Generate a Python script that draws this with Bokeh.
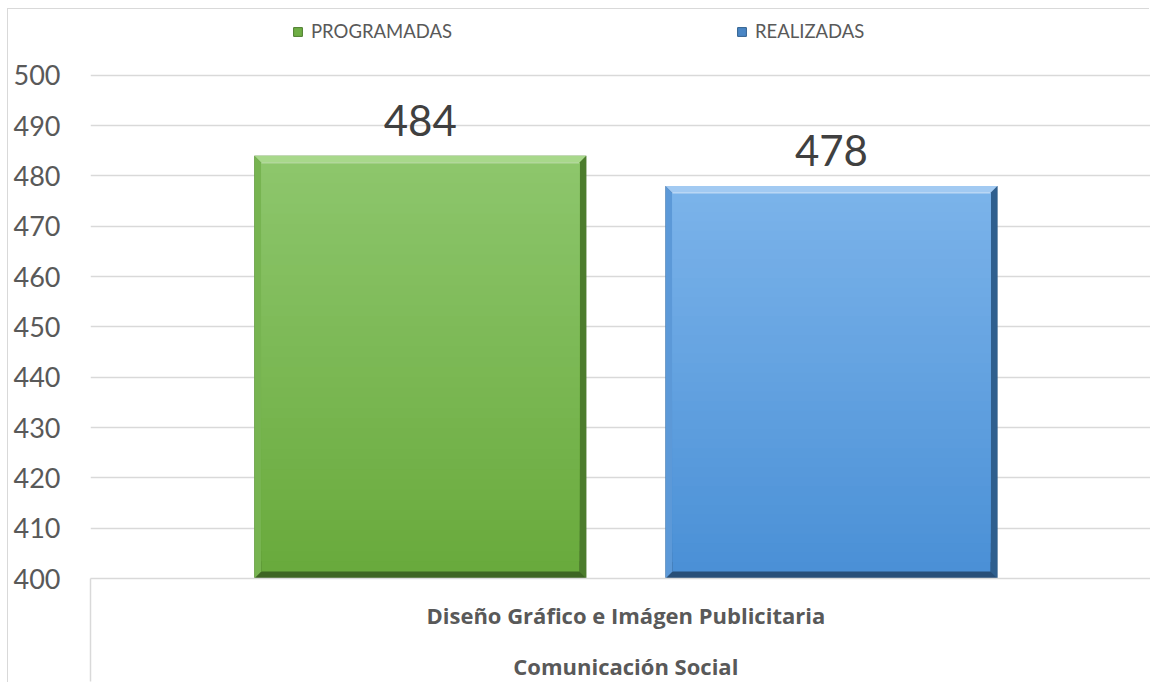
import numpy as np
from bokeh.plotting import figure
from bokeh.models import (Range1d, LinearAxis, FixedTicker, Legend, LegendItem,
                          ColumnDataSource)
from bokeh.core.properties import value
from bokeh.embed import file_html
from bokeh.resources import INLINE

# ---- data ----
categories = ["Diseño Gráfico e Imágen Publicitaria"]
group_label = "Comunicación Social"
series_names = ["PROGRAMADAS", "REALIZADAS"]
programadas = [484]
realizadas = [478]
y_ticks = [400, 410, 420, 430, 440, 450, 460, 470, 480, 490, 500]

# ---- styles ----
FONT = "Lato"
CAT_FONT = "Open Sans"
TXT = "#595959"
GRID = "#d9d9d9"
palettes = [
    dict(face_top="#8dc66c", face_bot="#69aa3c", top="#a8d88b", left="#77b451",
         right="#4c7c2d", bottom="#3d6523", mid="#6fae45"),
    dict(face_top="#7bb3ea", face_bot="#4a90d6", top="#a2caf2", left="#5c99d8",
         right="#2f5f8e", bottom="#284f78", mid="#4a86c5"),
]
offsets = [-0.192, 0.192]
bar_w = 0.31

W, H = 1142, 674
ML, MR, MT, MB = 82, 0, 0, 103
TOP_PAD = 66          # space (px) above the highest tick, inside the frame
FW = W - ML - MR
FH = H - MT - MB
x0, x1 = 0.0, 0.99
y0 = y_ticks[0]
y1 = y0 + (y_ticks[-1] - y0) * FH / (FH - TOP_PAD)

p = figure(width=W, height=H, output_backend="svg", toolbar_location=None,
           x_range=Range1d(x0, x1), y_range=Range1d(y0, y1),
           x_axis_location=None, y_axis_location="left",
           min_border_left=ML, min_border_right=MR, min_border_top=MT,
           min_border_bottom=MB)
p.margin = (9, 0, 0, 8)
p.styles = {"box-shadow": "-1px -1px 0 0 #d9d9d9"}
p.outline_line_color = None
p.background_fill_color = "white"
p.border_fill_color = "white"

# y axis
p.yaxis.ticker = FixedTicker(ticks=y_ticks)
p.yaxis.axis_line_color = None
p.yaxis.major_tick_line_color = None
p.yaxis.minor_tick_line_color = None
p.yaxis.major_label_text_font = FONT
p.yaxis.major_label_text_font_size = "27px"
p.yaxis.major_label_text_color = TXT
p.yaxis.major_label_standoff = 24
p.xgrid.visible = False
p.ygrid.grid_line_color = GRID
p.ygrid.grid_line_width = 1.5
p.ygrid.ticker = FixedTicker(ticks=y_ticks)

# category axes (two levels)
cat_center = 0.5
ax1 = LinearAxis(ticker=FixedTicker(ticks=[cat_center], minor_ticks=[x0]),
                 major_label_overrides={cat_center: categories[0]})
ax1.axis_line_color = GRID
ax1.axis_line_width = 1.5
ax1.major_tick_line_color = None
ax1.major_tick_out = 0
ax1.major_tick_in = 0
ax1.minor_tick_line_color = GRID
ax1.minor_tick_line_width = 1.5
ax1.minor_tick_out = MB
ax1.minor_tick_in = 0
ax1.major_label_text_font = CAT_FONT
ax1.major_label_text_font_style = "bold"
ax1.major_label_text_font_size = "22px"
ax1.major_label_text_color = TXT
ax1.major_label_standoff = -82
p.add_layout(ax1, "below")

ax2 = LinearAxis(ticker=FixedTicker(ticks=[cat_center], minor_ticks=[]),
                 major_label_overrides={cat_center: group_label})
ax2.axis_line_color = None
ax2.major_tick_line_color = None
ax2.minor_tick_line_color = None
ax2.major_tick_out = 0
ax2.major_tick_in = 0
ax2.major_label_text_font = CAT_FONT
ax2.major_label_text_font_style = "bold"
ax2.major_label_text_font_size = "22px"
ax2.major_label_text_color = TXT
ax2.major_label_standoff = 18
p.add_layout(ax2, "below")

# bars with bevel
bev_px = 7
bx = bev_px * (x1 - x0) / FW
by = bev_px * (y1 - y0) / FH
NB = 40

def hex2rgb(h):
    h = h.lstrip("#")
    return np.array([int(h[i:i + 2], 16) for i in (0, 2, 4)], dtype=float)

def rgb2hex(c):
    return "#%02x%02x%02x" % tuple(int(round(v)) for v in c)

legend_items = []
values_all = [programadas, realizadas]
for si, vals in enumerate(values_all):
    pal = palettes[si]
    for ci, v in enumerate(vals):
        c = ci + cat_center + offsets[si]
        l, r = c - bar_w / 2, c + bar_w / 2
        b, t = y0, v
        p.quad(left=[l], right=[r], bottom=[b], top=[t],
               fill_color=pal["bottom"], line_color=None)
        p.patch([r, r, r - bx, r - bx], [b, t, t - by, b + by],
                fill_color=pal["right"], line_color=None)
        p.patch([l, l, l + bx, l + bx], [b, t, t - by, b + by],
                fill_color=pal["left"], line_color=None)
        p.patch([l, r, r - bx, l + bx], [t, t, t - by, t - by],
                fill_color=pal["top"], line_color=None)
        edges = np.linspace(b + by, t - by, NB + 1)
        ctop, cbot = hex2rgb(pal["face_top"]), hex2rgb(pal["face_bot"])
        cols = [rgb2hex(cbot + (ctop - cbot) * (k + 0.5) / NB) for k in range(NB)]
        src = ColumnDataSource(dict(bottom=edges[:-1], top=[t - by] * NB, color=cols))
        p.quad(left=l + bx, right=r - bx, bottom="bottom", top="top", fill_color="color",
               line_color=None, source=src)
        p.segment(x0=[l + bx], x1=[r - bx], y0=[t - by], y1=[t - by],
                  line_color="#ffffff", line_alpha=0.35, line_width=1.5)
        p.text(x=[c], y=[v], text=[str(v)], text_align="center",
               text_baseline="bottom", y_offset=-20, text_font=value(FONT),
               text_font_size="42px", text_color="#404040")
    lr = p.quad(left=[x0], right=[x0], bottom=[y0], top=[y0],
                fill_color=pal["mid"], line_color=pal["right"], line_width=1)
    legend_items.append(LegendItem(label=series_names[si], renderers=[lr]))

legend = Legend(items=legend_items, orientation="horizontal",
                location=(202, FH - 35))
legend.glyph_width = 11
legend.glyph_height = 11
legend.label_standoff = 8
legend.spacing = 284
legend.padding = 0
legend.margin = 0
legend.background_fill_alpha = 0
legend.border_line_color = None
legend.label_text_font = FONT
legend.label_text_font_size = "18.5px"
legend.label_text_color = TXT
p.add_layout(legend, "center")

open("out.html", "w").write(file_html(p, INLINE))
